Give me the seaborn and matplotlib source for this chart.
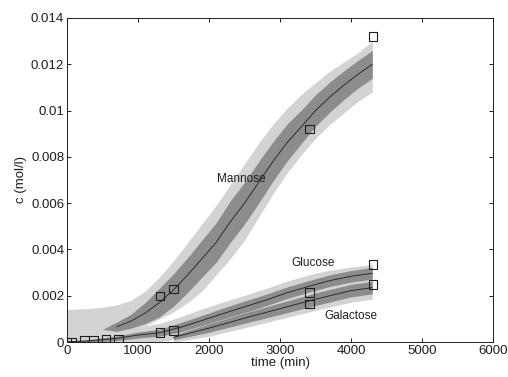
import numpy as np
import pandas as pd
import matplotlib
matplotlib.use("Agg")
import matplotlib.pyplot as plt
from matplotlib.ticker import FixedLocator, FixedFormatter
import seaborn as sns

# ---------------- data ----------------
# Mannose: mean curve
man_t = [700, 900, 1100, 1300, 1500, 1700, 1900, 2100, 2300, 2500, 2700, 2900,
         3100, 3300, 3500, 3700, 3900, 4100, 4300]
man_mean = [0.00066, 0.0009, 0.00125, 0.0017, 0.00225, 0.0029, 0.0036, 0.0043, 0.0052,
            0.0060, 0.0069, 0.0078, 0.00862, 0.0093, 0.0100, 0.01058, 0.0111, 0.01157, 0.0120]
# Mannose: inner (dark) band half-width on the same grid
man_dark_w = [0.0002, 0.0003, 0.00045, 0.00062, 0.0007, 0.00075, 0.0008, 0.00085, 0.0009,
              0.0009, 0.0009, 0.00085, 0.0008, 0.00072, 0.00068, 0.00065, 0.00062, 0.0006, 0.0006]
man_dark_start_t = 500
man_dark_start_c = 0.00055
# Mannose: outer (light) band
man_light_t = [0, 300, 500, 700, 900, 1100, 1300, 1500, 1700, 1900, 2100, 2300, 2500,
               2700, 2900, 3100, 3300, 3500, 3700, 3900, 4100, 4300]
man_light_hi = [0.0014, 0.00145, 0.0015, 0.0016, 0.0018, 0.0022, 0.0028, 0.0035, 0.0043,
                0.0051, 0.0059, 0.0068, 0.0077, 0.0086, 0.0094, 0.0101, 0.0107, 0.0112,
                0.0117, 0.0121, 0.0125, 0.0130]
man_light_lo = [0.0, 0.0, 0.0001, 0.0003, 0.0005, 0.0007, 0.0010, 0.0013, 0.0017, 0.0022,
                0.0029, 0.0036, 0.0044, 0.0054, 0.0064, 0.0073, 0.0081, 0.0088, 0.0094,
                0.0099, 0.0104, 0.0108]
man_obs_t = [1310, 1500, 3420, 4310]
man_obs_c = [0.00199, 0.00229, 0.0092, 0.0132]

# Glucose
glc_t = [0, 300, 700, 1000, 1300, 1600, 1900, 2200, 2500, 2800, 3100, 3400, 3700, 4000, 4300]
glc_mean = [0.00001, 0.00005, 0.00016, 0.0003, 0.0004, 0.00064, 0.00093, 0.00123, 0.00152,
            0.00181, 0.00213, 0.0024, 0.00265, 0.00284, 0.00297]
glc_dark_w = [0.00003, 0.00005, 0.0001, 0.00013, 0.00015, 0.0002, 0.00022, 0.00024, 0.00025,
              0.00025, 0.00025, 0.00025, 0.00025, 0.00025, 0.00025]
glc_light_w = [0.0002, 0.00025, 0.0003, 0.00035, 0.0004, 0.00045, 0.0005, 0.0005, 0.0005,
               0.0005, 0.0005, 0.0005, 0.00045, 0.0004, 0.00038]
glc_obs_t = [0, 60, 250, 370, 550, 720, 1310, 1500, 3420, 4310]
glc_obs_c = [0.0, 0.0, 0.00005, 0.00006, 0.00012, 0.00013, 0.0004, 0.0005, 0.00213, 0.00336]

# Galactose
gal_t = [1500, 2000, 2500, 3000, 3500, 4000, 4300]
gal_mean = [0.0002, 0.0006, 0.00103, 0.00144, 0.00185, 0.00222, 0.00235]
gal_dark_w = [0.0001, 0.00018, 0.00022, 0.00025, 0.00027, 0.00027, 0.00027]
gal_light_w = [0.0002, 0.00035, 0.00042, 0.00045, 0.00048, 0.0005, 0.0005]
gal_obs_t = [3420, 4310]
gal_obs_c = [0.00164, 0.00249]

labels = ["Mannose", "Glucose", "Galactose"]
label_pos_t = [2450, 3460, 4000]
label_pos_c = [0.00703, 0.0034, 0.00112]

x_ticks = [0, 1000, 2000, 3000, 4000, 5000, 6000]
y_ticks = [0, 0.002, 0.004, 0.006, 0.008, 0.01, 0.012, 0.014]
y_tick_labels = ["0", "0.002", "0.004", "0.006", "0.008", "0.01", "0.012", "0.014"]

# ---------------- style ----------------
sns.set_style("ticks")
plt.rcParams["font.family"] = ["Liberation Sans", "DejaVu Sans"]
plt.rcParams["xtick.direction"] = "in"
plt.rcParams["ytick.direction"] = "in"

LIGHT = "#d3d3d3"
DARK = "#8c8c8c"
INK = "#1e1e1e"

fig = plt.figure(figsize=(5.08, 3.77), dpi=100)
ax = fig.add_axes([0.1319, 0.0928, 0.8386, 0.8595])

# light bands
ax.fill_between(man_light_t, man_light_lo, man_light_hi, color=LIGHT, lw=0, zorder=1)
g_t = np.array(glc_t); g_m = np.array(glc_mean)
ax.fill_between(g_t, np.clip(g_m - np.array(glc_light_w), 0, None), g_m + np.array(glc_light_w),
                color=LIGHT, lw=0, zorder=1)
a_t = np.array(gal_t); a_m = np.array(gal_mean)
ax.fill_between(a_t, np.clip(a_m - np.array(gal_light_w), 0, None), a_m + np.array(gal_light_w),
                color=LIGHT, lw=0, zorder=1)

# dark bands
m_t = np.array(man_t); m_m = np.array(man_mean); m_w = np.array(man_dark_w)
md_t = np.concatenate([[man_dark_start_t], m_t])
md_hi = np.concatenate([[man_dark_start_c], m_m + m_w])
md_lo = np.concatenate([[man_dark_start_c], m_m - m_w])
ax.fill_between(md_t, md_lo, md_hi, color=DARK, lw=0, zorder=2)
ax.fill_between(g_t, np.clip(g_m - np.array(glc_dark_w), 0, None), g_m + np.array(glc_dark_w),
                color=DARK, lw=0, zorder=2)
ax.fill_between(a_t, np.clip(a_m - np.array(gal_dark_w), 0, None), a_m + np.array(gal_dark_w),
                color=DARK, lw=0, zorder=2)

# mean lines
sns.lineplot(x=man_t, y=man_mean, ax=ax, color=INK, lw=0.6, zorder=3)
sns.lineplot(x=glc_t, y=glc_mean, ax=ax, color=INK, lw=0.6, zorder=3)
sns.lineplot(x=gal_t, y=gal_mean, ax=ax, color=INK, lw=0.6, zorder=3)

# observations
obs = pd.DataFrame({
    "t": man_obs_t + glc_obs_t + gal_obs_t,
    "c": man_obs_c + glc_obs_c + gal_obs_c,
})
sns.scatterplot(data=obs, x="t", y="c", ax=ax, marker="s", s=40,
                facecolor="none", edgecolor=INK, linewidth=0.8, zorder=4)

for lab, tx, cy in zip(labels, label_pos_t, label_pos_c):
    ax.text(tx, cy, lab, ha="center", va="center", fontsize=8.5, color=INK, zorder=5)

ax.set_xlim(0, 6000)
ax.set_ylim(0, 0.014)
ax.xaxis.set_major_locator(FixedLocator(x_ticks))
ax.yaxis.set_major_locator(FixedLocator(y_ticks))
ax.yaxis.set_major_formatter(FixedFormatter(y_tick_labels))
ax.tick_params(axis="both", which="both", top=True, right=True, length=3, width=0.7,
               labelsize=9.5, colors=INK, pad=2)
for sp in ax.spines.values():
    sp.set_visible(True)
    sp.set_linewidth(0.7)
    sp.set_color(INK)

ax.set_xlabel("time (min)", fontsize=9.5, labelpad=0, color=INK)
ax.set_ylabel("c (mol/l)", fontsize=9.5, labelpad=3, color=INK)

fig.savefig("out.png", dpi=100)
